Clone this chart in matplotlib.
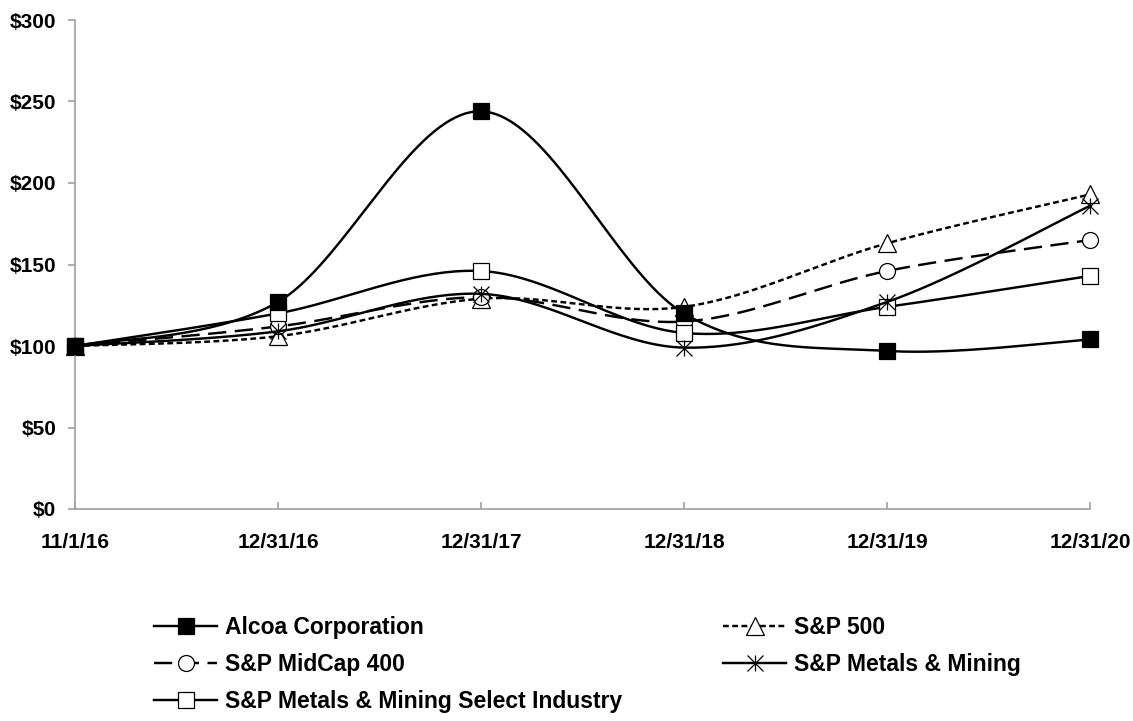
import numpy as np
import matplotlib.pyplot as plt
from matplotlib.path import Path
from matplotlib.lines import Line2D

# Valores (retorno acumulado, base $100)
datas = ['11/1/16', '12/31/16', '12/31/17', '12/31/18', '12/31/19', '12/31/20']
alcoa = [100, 127, 244, 120, 97, 104]
sp500 = [100, 106, 129, 124, 163, 193]
midcap = [100, 112, 130, 115, 146, 165]
metals = [100, 109, 132, 99, 127, 186]
select = [100, 120, 146, 108, 124, 143]
yticks = [0, 50, 100, 150, 200, 250, 300]

plt.rcParams['font.family'] = 'Liberation Sans'
plt.rcParams['font.weight'] = 'bold'


# Curva suavizada tipo Excel (Catmull-Rom em forma de Bezier)
def suavizar(y, n=40):
    x = np.arange(len(y), dtype=float)
    y = np.asarray(y, dtype=float)
    px = np.concatenate([[x[0]], x, [x[-1]]])
    py = np.concatenate([[y[0]], y, [y[-1]]])
    t = np.linspace(0, 1, n)
    xs, ys = [], []
    for i in range(1, len(px) - 2):
        b0 = np.array([px[i], py[i]])
        b3 = np.array([px[i + 1], py[i + 1]])
        b1 = b0 + (np.array([px[i + 1], py[i + 1]]) - np.array([px[i - 1], py[i - 1]])) / 6
        b2 = b3 - (np.array([px[i + 2], py[i + 2]]) - np.array([px[i], py[i]])) / 6
        c = ((1 - t) ** 3)[:, None] * b0 + (3 * (1 - t) ** 2 * t)[:, None] * b1 \
            + (3 * (1 - t) * t ** 2)[:, None] * b2 + (t ** 3)[:, None] * b3
        xs.append(c[:, 0])
        ys.append(c[:, 1])
    return np.concatenate(xs), np.concatenate(ys)


# Marcador estrela (vertical + X)
estrela = Path([(0, -1), (0, 1), (-1, -1), (1, 1), (-1, 1), (1, -1)],
               [Path.MOVETO, Path.LINETO, Path.MOVETO, Path.LINETO, Path.MOVETO, Path.LINETO])

lw = 1.75
series = [
    ('Alcoa Corporation', alcoa, dict(ls='-'), dict(marker='s', mfc='black', ms=11.5), 6),
    ('S&P MidCap 400', midcap, dict(ls=(0, (7.5, 3.5))), dict(marker='o', mfc='white', ms=11.5), 3),
    ('S&P Metals & Mining Select Industry', select, dict(ls='-'), dict(marker='s', mfc='white', ms=11.5), 4),
    ('S&P 500', sp500, dict(ls=(0, (2.4, 1.4))), dict(marker='^', mfc='white', ms=12.5), 2),
    ('S&P Metals & Mining', metals, dict(ls='-'), dict(marker=estrela, mfc='none', ms=11.5), 5),
]

fig = plt.figure(figsize=(11.33, 7.21), dpi=100)
ax = fig.add_axes([75 / 1133, 1 - 509 / 721, (1090 - 75) / 1133, (509 - 20) / 721])

x = np.arange(len(datas))
handles = []
for nome, vals, estilo, mk, z in series:
    xs, ys = suavizar(vals)
    ax.plot(xs, ys, color='black', lw=lw, zorder=z, **estilo)
    ax.plot(x, vals, ls='none', color='black', mec='black', mew=0.9, zorder=z + 0.5,
            clip_on=False, **mk)
    handles.append(Line2D([], [], color='black', lw=lw, mec='black', mew=0.9,
                          **estilo, **mk))

ax.set_xlim(0, 5)
ax.set_ylim(0, 300)
ax.set_xticks(x)
ax.set_xticklabels(datas)
ax.set_yticks(yticks)
ax.set_yticklabels(['$%d' % v for v in yticks])

for lado in ['top', 'right']:
    ax.spines[lado].set_visible(False)
for lado in ['left', 'bottom']:
    ax.spines[lado].set_color('#a0a0a0')
    ax.spines[lado].set_linewidth(1.2)

ax.tick_params(axis='y', direction='out', length=5, width=1.2, color='#a0a0a0',
               pad=8.5, labelsize=15)
ax.tick_params(axis='x', direction='in', length=5, width=1.2, color='#a0a0a0',
               pad=17, labelsize=15)

# Legenda em duas colunas, posicionadas separadamente
nomes = [s[0] for s in series]
opts = dict(loc='upper left', frameon=False, borderpad=0, borderaxespad=0,
            numpoints=1, handlelength=2.75, handletextpad=0.35,
            labelspacing=0.62, prop={'weight': 'bold', 'size': 16.5})
fig.legend(handles[:3], nomes[:3], bbox_to_anchor=(154 / 1133, 1 - 616 / 721), **opts)
fig.legend(handles[3:], nomes[3:], bbox_to_anchor=(723 / 1133, 1 - 616 / 721), **opts)

fig.savefig('out.png', dpi=100)
